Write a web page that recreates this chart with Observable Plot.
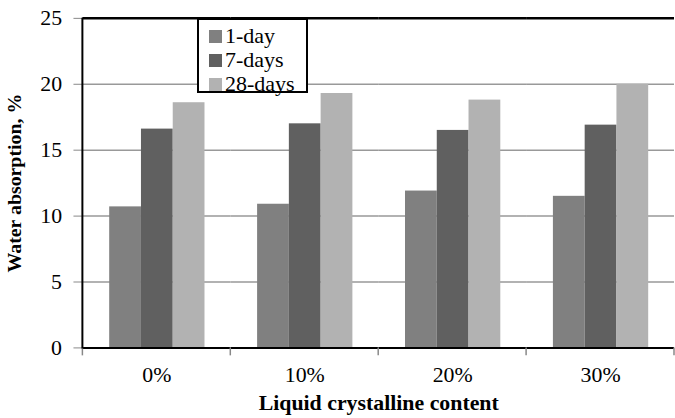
<!DOCTYPE html>
<html>
<head>
<meta charset="utf-8">
<script src="https://cdn.jsdelivr.net/npm/d3@7"></script>
<script src="https://cdn.jsdelivr.net/npm/@observablehq/plot@0.6"></script>
<style>
  html, body { margin: 0; padding: 0; overflow: hidden; background: #fff; }
  #wrap { position: relative; width: 675px; height: 418px; overflow: hidden; }
  svg { font-family: "Liberation Serif", "Times New Roman", serif; }
  g[aria-label$="axis label"] text { font-weight: bold; }
  g[aria-label="y-axis label"] text { font-size: 20px; }
  #legend {
    position: absolute; left: 197px; top: 18px; width: 107px; height: 71px;
    border: 2px solid #000; background: #fff;
    font-family: "Liberation Serif", "Times New Roman", serif; font-size: 22px; color: #000;
  }
  #legend .row { position: absolute; left: 10px; height: 24px; display: flex; align-items: center; }
  #legend .sw { width: 13px; height: 13px; margin-right: 3px; }
</style>
</head>
<body>
<div id="wrap"></div>
<script>
const categories = ["0%", "10%", "20%", "30%"];
const series = ["1-day", "7-days", "28-days"];
const oneDay = [10.7, 10.9, 11.9, 11.5];
const sevenDays = [16.6, 17.0, 16.5, 16.9];
const twentyEightDays = [18.6, 19.3, 18.8, 20.0];
const colors = ["#808080", "#606060", "#b2b2b2"];
const yTicks = [0, 5, 10, 15, 20, 25];

const valuesBySeries = [oneDay, sevenDays, twentyEightDays];
const data = [];
categories.forEach((c, i) => {
  series.forEach((s, j) => {
    data.push({category: c, series: s, value: valuesBySeries[j][i]});
  });
});

const chart = Plot.plot({
  width: 680,
  height: 418,
  marginLeft: 82,
  marginRight: 0,
  marginTop: 18,
  marginBottom: 68,
  style: {fontSize: "22px", fontFamily: "Liberation Serif, serif", color: "#000", background: "#fff"},
  fx: {domain: categories, padding: 0},
  x: {domain: series, paddingInner: 0, paddingOuter: 0.76, axis: null},
  y: {domain: [0, 25]},
  color: {domain: series, range: colors},
  marks: [
    Plot.gridY(yTicks.filter(d => d > 0 && d < 25), {stroke: "#999", strokeOpacity: 1, strokeWidth: 1.5}),
    Plot.barY(data, {fx: "category", x: "series", y: "value", fill: "series", inset: 0}),
    Plot.ruleY([25], {stroke: "#000", strokeWidth: 2.5}),
    Plot.ruleY([0], {stroke: "#000", strokeWidth: 2}),
    Plot.axisY({ticks: yTicks, tickSize: 9, tickPadding: 12, stroke: "#888", fill: "#000",
      label: "Water absorption, %", labelAnchor: "center", labelArrow: "none", labelOffset: 77, fontSize: 22}),
    Plot.axisFx({anchor: "bottom", tickSize: 0, tickPadding: 19, fontSize: 22,
      label: "Liquid crystalline content", labelAnchor: "center", labelArrow: "none", labelOffset: 63})
  ]
});

document.getElementById("wrap").appendChild(chart);

// boundary tick marks and left axis line, from the plot's own scales
const fx = chart.scale("fx");
const y = chart.scale("y");
const svg = d3.select(chart);
const bounds = categories.map(c => fx.apply(c)).concat([fx.apply(categories[categories.length - 1]) + fx.bandwidth]);
const g = svg.append("g");
g.selectAll("line.bt").data(bounds).join("line")
  .attr("x1", d => d).attr("x2", d => d)
  .attr("y1", y.apply(0)).attr("y2", y.apply(0) + 8)
  .attr("stroke", "#888").attr("stroke-width", 1.5);
g.append("line")
  .attr("x1", fx.apply(categories[0])).attr("x2", fx.apply(categories[0]))
  .attr("y1", y.apply(25)).attr("y2", y.apply(0) + 1)
  .attr("stroke", "#000").attr("stroke-width", 2);

// legend inside the plot area
const legend = d3.select("#wrap").append("div").attr("id", "legend");
const color = chart.scale("color");
series.forEach((s, i) => {
  const row = legend.append("div").attr("class", "row").style("top", (4 + i * 24) + "px");
  row.append("div").attr("class", "sw").style("background", color.apply(s));
  row.append("span").text(s);
});
</script>
</body>
</html>
